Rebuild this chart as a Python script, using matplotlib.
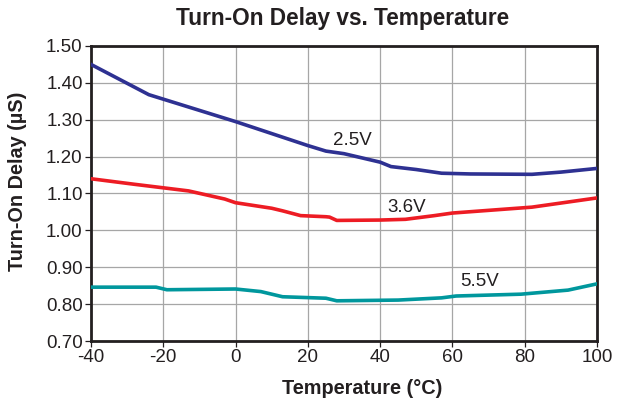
import matplotlib
matplotlib.use("Agg")
import matplotlib.pyplot as plt

t_25 = [-40, -24, 0, 20, 25, 30, 40, 43, 50, 57, 65, 82, 90, 100]
v_25 = [1.45, 1.368, 1.295, 1.230, 1.215, 1.208, 1.185, 1.173, 1.165, 1.155, 1.153, 1.152, 1.158, 1.168]

t_36 = [-40, -28, -13, -3, 0, 10, 13, 18, 25, 26, 28, 40, 47, 55, 60, 82, 100]
v_36 = [1.14, 1.125, 1.107, 1.085, 1.075, 1.060, 1.053, 1.040, 1.037, 1.036, 1.027, 1.028, 1.030, 1.040, 1.047, 1.063, 1.088]

t_55 = [-40, -22, -19, 0, 7, 13, 25, 28, 45, 57, 61, 79, 92, 100]
v_55 = [0.846, 0.846, 0.839, 0.841, 0.834, 0.820, 0.816, 0.809, 0.811, 0.817, 0.822, 0.827, 0.838, 0.855]

labels = ["2.5V", "3.6V", "5.5V"]
label_pos = [(32.2, 1.245), (47.4, 1.063), (67.6, 0.860)]
colors = ["#2e3192", "#ed1c24", "#00979d"]

xticks = [-40, -20, 0, 20, 40, 60, 80, 100]
yticks = [0.70, 0.80, 0.90, 1.00, 1.10, 1.20, 1.30, 1.40, 1.50]

plt.rcParams['font.family'] = ['Liberation Sans', 'DejaVu Sans']
fig = plt.figure(figsize=(6.21, 4.01), dpi=100)
ax = fig.add_axes([91/621, 60/401, 506/621, 295/401])

for t, v, c in zip([t_25, t_36, t_55], [v_25, v_36, v_55], colors):
    ax.plot(t, v, color=c, lw=2.6, solid_joinstyle='round', zorder=3)
for lab, (x, y) in zip(labels, label_pos):
    ax.text(x, y, lab, fontsize=13.5, color="#231f20", ha='center', va='center', zorder=4)

ax.set_xlim(-40, 100)
ax.set_ylim(0.70, 1.50)
ax.set_xticks(xticks)
ax.set_yticks(yticks)
ax.set_xticklabels([str(x) for x in xticks])
ax.set_yticklabels([f"{y:.2f}" for y in yticks])
ax.grid(True, color="#a6a6a6", lw=0.9, zorder=0)
for s in ax.spines.values():
    s.set_linewidth(2.0)
    s.set_color("#231f20")
ax.tick_params(direction='out', length=4, width=0.9, labelsize=13.5, colors="#231f20", pad=2)

fig.text(362/621, 1 - 389/401, "Temperature (°C)", fontsize=14.3, fontweight='bold',
         color="#231f20", ha='center', va='center')
fig.text(18/621, 1 - 181.5/401, "Turn-On Delay (µS)", fontsize=14.3, fontweight='bold',
         color="#231f20", ha='center', va='center', rotation=90)
fig.text(343/621, 1 - 19/401, "Turn-On Delay vs. Temperature", fontsize=16.3, fontweight='bold',
         color="#231f20", ha='center', va='center')

fig.savefig("out.png", dpi=100)
